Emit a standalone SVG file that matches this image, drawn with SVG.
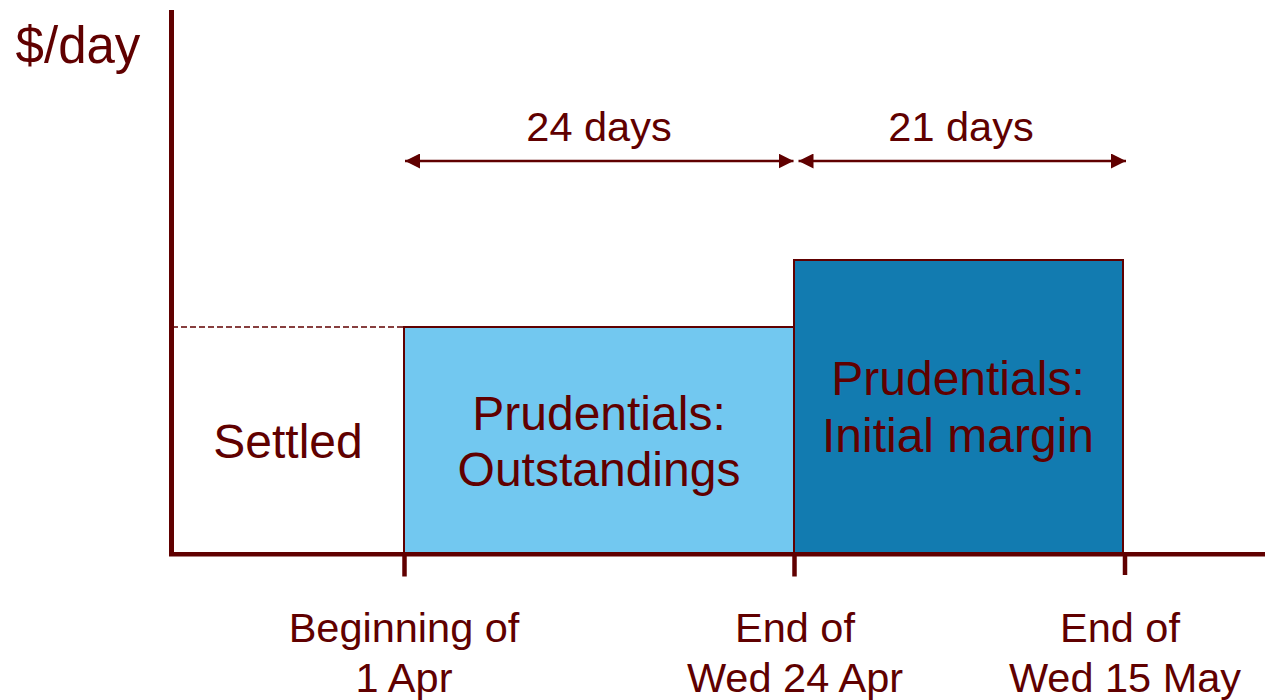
<svg xmlns="http://www.w3.org/2000/svg" width="1265" height="700" viewBox="0 0 1265 700">
<style>
text{font-family:"Liberation Sans",Arial,sans-serif;fill:#600000;text-anchor:middle}
.big{font-size:48px}
.mid{font-size:41.5px}
.ax{stroke:#600000;fill:none}
.arr{stroke:#600000;stroke-width:2.5;fill:none;marker-start:url(#ah);marker-end:url(#ah)}
</style>
<defs>
<marker id="ah" viewBox="0 0 15 15" refX="15" refY="7.5" markerWidth="15" markerHeight="15" markerUnits="userSpaceOnUse" orient="auto-start-reverse">
<path d="M0,0 L15,7.5 L0,15 Z" fill="#600000"/>
</marker>
</defs>
<g id="settled">
<rect x="172" y="327" width="232" height="226" fill="#ffffff" stroke="#600000" stroke-width="1.5" stroke-dasharray="6,3"/>
<text class="big" x="288" y="458">Settled</text>
</g>
<g id="outstandings">
<rect x="404" y="327" width="390" height="226" fill="#72C8F0" stroke="#600000" stroke-width="2"/>
<text class="big" x="599" y="430">Prudentials:</text>
<text class="big" x="599" y="486">Outstandings</text>
</g>
<g id="initial-margin">
<rect x="794" y="260" width="329" height="293" fill="#127BB0" stroke="#600000" stroke-width="2"/>
<text class="big" x="958" y="395">Prudentials:</text>
<text class="big" x="958" y="452">Initial margin</text>
</g>
<g id="axes">
<line class="ax" x1="171.5" y1="10" x2="171.5" y2="556" stroke-width="5"/>
<line class="ax" x1="169" y1="554.3" x2="1265" y2="554.3" stroke-width="4.5"/>
<line class="ax" x1="404.5" y1="554" x2="404.5" y2="576.5" stroke-width="4.5"/>
<line class="ax" x1="794.5" y1="554" x2="794.5" y2="576.5" stroke-width="4.5"/>
<line class="ax" x1="1125" y1="554" x2="1125" y2="575" stroke-width="4.5"/>
<text x="78" y="63" style="font-size:51px">$/day</text>
</g>
<g id="connectors">
<line class="arr" x1="405" y1="161" x2="793.5" y2="161"/>
<line class="arr" x1="798.5" y1="161" x2="1126" y2="161"/>
</g>
<g id="labels">
<text class="mid" x="599" y="141">24 days</text>
<text class="mid" x="961" y="141">21 days</text>
<text class="mid" x="404" y="642">Beginning of</text>
<text class="mid" x="404" y="692">1 Apr</text>
<text class="mid" x="795" y="642">End of</text>
<text class="mid" x="795" y="692">Wed 24 Apr</text>
<text class="mid" x="1120" y="642">End of</text>
<text class="mid" x="1125" y="692">Wed 15 May</text>
</g>
</svg>
